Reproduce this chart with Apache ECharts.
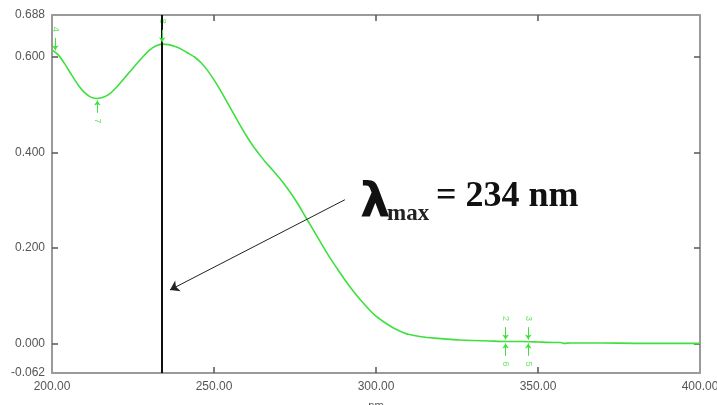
<!DOCTYPE html>
<html>
<head>
<meta charset="utf-8">
<script src="https://cdn.jsdelivr.net/npm/echarts@6/dist/echarts.min.js"></script>
<style>
  html, body { margin: 0; padding: 0; background: #fff; }
  #chart { width: 717px; height: 405px; }
</style>
</head>
<body>
<div id="chart"></div>
<script>
// UV absorption spectrum: wavelength (nm) vs absorbance
const wavelengths = [200, 202, 204, 206, 208, 210, 212, 214, 216, 218, 220, 222, 224, 226, 228, 230,
  232, 234, 236, 238, 240, 242, 244, 246, 248, 250, 252, 254, 256, 258, 260, 262, 264, 266, 268, 270,
  272, 274, 276, 278, 280, 282, 284, 286, 288, 290, 292, 294, 296, 298, 300, 302, 304, 306, 308, 310,
  314, 318, 322, 326, 330, 335, 340, 345, 350, 355, 357, 358, 360, 370, 380, 390, 400];
const absorbance = [0.615, 0.604, 0.585, 0.563, 0.542, 0.526, 0.516, 0.513, 0.516, 0.524, 0.537, 0.553,
  0.569, 0.585, 0.600, 0.614, 0.623, 0.627, 0.626, 0.622, 0.616, 0.608, 0.600, 0.588, 0.572, 0.552,
  0.530, 0.506, 0.482, 0.458, 0.435, 0.414, 0.396, 0.379, 0.364, 0.348, 0.331, 0.312, 0.291, 0.268,
  0.245, 0.222, 0.199, 0.177, 0.157, 0.137, 0.118, 0.101, 0.085, 0.070, 0.057, 0.047, 0.038, 0.030,
  0.024, 0.019, 0.014, 0.011, 0.009, 0.007, 0.006, 0.005, 0.004, 0.004, 0.003, 0.002, 0.002, 0.000,
  0.001, 0.001, 0.000, 0.000, 0.000];

// Axis ticks
const xTicks = [200, 250, 300, 350, 400];
const xMinorTicks = [250, 300, 350];
const yLabels = [-0.062, 0.000, 0.200, 0.400, 0.600, 0.688];
const yTicks = [0.000, 0.200, 0.400, 0.600];

// Peak / valley pick markers from the instrument software
const pickWavelengths = [201, 234, 340, 347];
const pickAbove = [0.610, 0.627, 0.004, 0.004];
const pickAboveText = ['4', '8', '2', '3'];
const valleyPickWavelengths = [214, 340, 347];
const valleyPickValues = [0.513, 0.004, 0.004];
const valleyPickText = ['7', '6', '5'];

const lambdaMax = 234;
// Pointer from the λmax caption towards the λmax line (wavelength, absorbance)
const pointerFrom = [290.4, 0.301];
const pointerTo = [236.4, 0.112];

const green = '#3de03d';
const axisGrey = '#9a9a9a';
const tickGrey = '#555';
const labelGrey = '#555';

const chart = echarts.init(document.getElementById('chart'));

const pickLabel = {
  show: true, formatter: '{b}', rotate: -90, color: green, fontSize: 9,
  fontFamily: 'Liberation Sans', position: 'inside'
};

const series = [{
  type: 'line',
  data: wavelengths.map((w, i) => [w, absorbance[i]]),
  showSymbol: false,
  smooth: 0.2,
  lineStyle: { color: green, width: 1.6 },
  z: 3,
  markLine: {
    silent: true,
    symbol: ['none', 'none'],
    label: { show: false },
    lineStyle: { color: '#111', width: 2, type: 'solid' },
    data: [{ xAxis: lambdaMax }]
  }
}, {
  // caption pointer
  type: 'line',
  data: [],
  markLine: {
    silent: true,
    symbol: ['none', 'arrow'],
    symbolSize: 9,
    label: { show: false },
    lineStyle: { color: '#222', width: 1, type: 'solid' },
    data: [[{ coord: pointerFrom }, { coord: pointerTo }]]
  }
}, {
  // pick arrows above the curve
  type: 'line',
  data: [],
  markLine: {
    silent: true,
    symbol: ['none', 'arrow'],
    symbolSize: 5,
    label: { show: false },
    lineStyle: { color: green, width: 1, type: 'solid' },
    data: pickWavelengths.map((w, i) => [{ coord: [w, pickAbove[i] + 0.03] }, { coord: [w, pickAbove[i] + 0.004] }])
  }
}, {
  // pick arrows below the curve
  type: 'line',
  data: [],
  markLine: {
    silent: true,
    symbol: ['none', 'arrow'],
    symbolSize: 5,
    label: { show: false },
    lineStyle: { color: green, width: 1, type: 'solid' },
    data: valleyPickWavelengths.map((w, i) => [{ coord: [w, valleyPickValues[i] - 0.03] }, { coord: [w, valleyPickValues[i] - 0.004] }])
  }
}, {
  type: 'scatter',
  symbolSize: 0,
  silent: true,
  data: pickWavelengths.map((w, i) => ({ value: [w, pickAbove[i] + 0.048], name: pickAboveText[i] })),
  label: pickLabel
}, {
  type: 'scatter',
  symbolSize: 0,
  silent: true,
  data: valleyPickWavelengths.map((w, i) => ({ value: [w, valleyPickValues[i] - 0.047], name: valleyPickText[i] })),
  label: pickLabel
}];

const fmt2 = v => v.toFixed(2);
const fmt3 = v => v.toFixed(3);

const frameLine = { show: true, onZero: false, lineStyle: { color: axisGrey, width: 2 } };

chart.setOption({
  animation: false,
  backgroundColor: '#fff',
  grid: { left: 52, right: 17, top: 15, bottom: 32, outerBoundsMode: 'none', containLabel: false },
  xAxis: [{
    type: 'value', min: 200, max: 400, position: 'bottom',
    name: 'nm', nameLocation: 'middle', nameGap: 27,
    nameTextStyle: { color: labelGrey, fontSize: 11, fontFamily: 'Liberation Sans' },
    axisLine: frameLine,
    axisTick: { show: true, inside: true, length: 6, lineStyle: { color: tickGrey, width: 1.5 }, customValues: xMinorTicks },
    axisLabel: { color: labelGrey, fontSize: 12, fontFamily: 'Liberation Sans', margin: 8, customValues: xTicks, formatter: fmt2 },
    splitLine: { show: false }
  }, {
    type: 'value', min: 200, max: 400, position: 'top',
    axisLine: frameLine,
    axisTick: { show: true, inside: true, length: 6, lineStyle: { color: tickGrey, width: 1.5 }, customValues: xMinorTicks },
    axisLabel: { show: false },
    splitLine: { show: false }
  }],
  yAxis: [{
    type: 'value', min: -0.062, max: 0.688, position: 'left',
    axisLine: frameLine,
    axisTick: { show: true, inside: true, length: 6, lineStyle: { color: tickGrey, width: 1.5 }, customValues: yTicks },
    axisLabel: { color: labelGrey, fontSize: 12, fontFamily: 'Liberation Sans', margin: 7, customValues: yLabels, formatter: fmt3 },
    splitLine: { show: false }
  }, {
    type: 'value', min: -0.062, max: 0.688, position: 'right',
    axisLine: frameLine,
    axisTick: { show: true, inside: true, length: 6, lineStyle: { color: tickGrey, width: 1.5 }, customValues: yTicks },
    axisLabel: { show: false },
    splitLine: { show: false }
  }],
  graphic: [{
    type: 'text', left: 360, top: 181,
    style: { text: 'λ', fontSize: 48, fontFamily: 'DejaVu Sans', fontWeight: 'bold', fill: '#111' }
  }, {
    type: 'text', left: 387, top: 203,
    style: { text: 'max', fontSize: 23, fontFamily: 'Liberation Serif', fontWeight: 'bold', fill: '#222' }
  }, {
    type: 'text', left: 436, top: 179,
    style: { text: '= 234 nm', fontSize: 36, fontFamily: 'Liberation Serif', fontWeight: 'bold', fill: '#111' }
  }],
  series: series
});
</script>
</body>
</html>
